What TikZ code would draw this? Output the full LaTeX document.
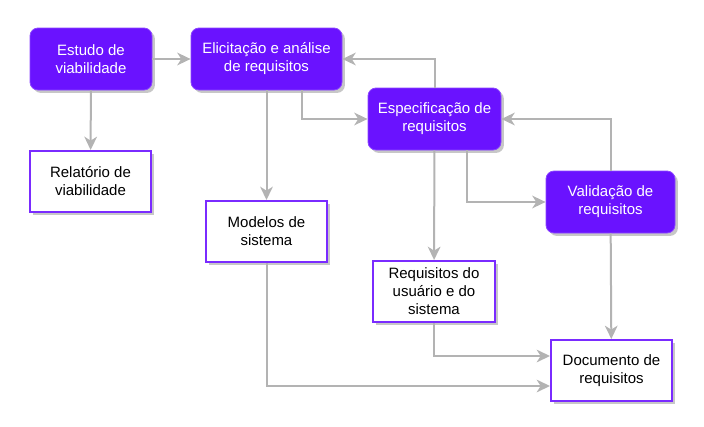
\documentclass[tikz,border=0pt]{standalone}
\usepackage{fontspec}
\setmainfont{Liberation Sans}
\usetikzlibrary{arrows.meta,shadows}
\definecolor{pfill}{HTML}{6A12FF}
\definecolor{pedge}{HTML}{8B45FF}
\definecolor{bedge}{HTML}{7A2BFF}
\definecolor{lgray}{HTML}{B3B3B3}
\tikzset{
  x=0.75pt, y=-0.75pt,
  every node/.style={font=\fontsize{11.25pt}{13.5pt}\selectfont, align=center, inner sep=0pt},
  shad/.style={drop shadow={shadow xshift=2.2pt, shadow yshift=-2.2pt, fill=black, opacity=0.22}},
  proc/.style={shad, rounded corners=6pt, fill=pfill, draw=pedge, line width=0.6pt, text=white},
  doc/.style={shad, fill=white, draw=bedge, line width=1.5pt, text=black},
  conn/.style={draw=lgray, line width=1.5pt, -{Stealth[length=10pt,width=9.5pt,inset=3pt]}},
}
\begin{document}
\begin{tikzpicture}
\useasboundingbox (0,0) rectangle (704,426);
\node[proc, minimum width=91.5pt, minimum height=46.5pt] (est) at (91,59) {Estudo de\\viabilidade};
\node[proc, minimum width=113.25pt, minimum height=46.5pt] (eli) at (266.5,59) {Elicitação e análise\\de requisitos};
\node[doc, minimum width=90.75pt, minimum height=45.75pt] (rel) at (90.5,181.5) {Relatório de\\viabilidade};
\node[doc, minimum width=90.75pt, minimum height=45.75pt] (mod) at (266.5,231.5) {Modelos de\\sistema};
\node[proc, minimum width=99.75pt, minimum height=46.5pt] (esp) at (434.5,119) {Especificação de\\requisitos};
\node[proc, minimum width=96.75pt, minimum height=46.5pt] (val) at (610.5,202) {Validação de\\requisitos};
\node[doc, minimum width=91.5pt, minimum height=45.75pt] (req) at (434,291.5) {Requisitos do\\usuário e do\\sistema};
\node[doc, minimum width=90.75pt, minimum height=45.75pt] (docr) at (611.5,370.5) {Documento de\\requisitos};
\draw[conn] (est) -- (eli);
\draw[conn] (est) -- (rel);
\draw[conn] (eli) -- (mod);
\draw[conn] (eli.south -| 302,0) |- (esp.west);
\draw[conn] (esp.north) |- (eli.east);
\draw[conn] (esp) -- (req);
\draw[conn] (esp.south -| 467,0) |- (val.west);
\draw[conn] (val.north) |- (esp.east);
\draw[conn] (val) -- (docr);
\draw[conn] (req.south) |- (docr.west |- 0,356);
\draw[conn] (mod.south) |- (docr.west |- 0,386);
\end{tikzpicture}
\end{document}
